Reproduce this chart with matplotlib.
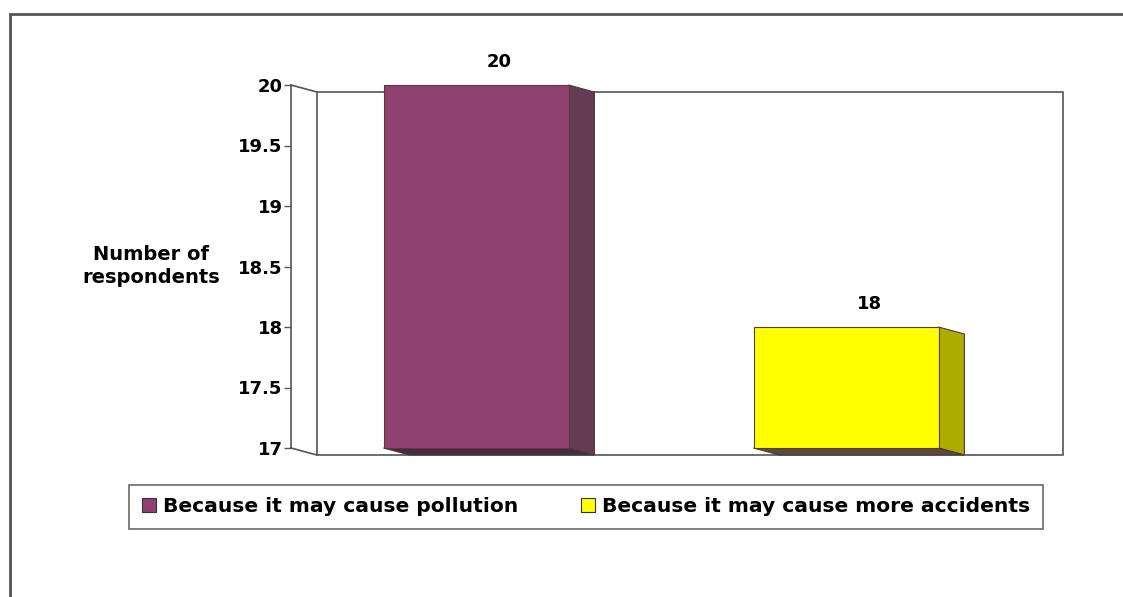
import matplotlib.pyplot as plt
from matplotlib.patches import Polygon, Rectangle
from matplotlib.lines import Line2D

plt.rcParams['font.family'] = ['DejaVu Sans']

# Survey answers
reasons = ['Because it may cause pollution', 'Because it may cause more accidents']
respondents = [20, 18]
yticks = [17, 17.5, 18, 18.5, 19, 19.5, 20]

front_colors = ['#8F4270', '#FFFF00']
side_colors = ['#653A55', '#ADAD00']
floor_colors = ['#4A2A40', '#5A4A40']

base = 17
ymax = 20
dx, dy = 0.07, -0.058  # 3D depth offset in data units
bar_w = 0.5

fig = plt.figure(figsize=(11.23, 5.97), dpi=100)
ax = fig.add_axes([291 / 1123, (597 - 448) / 597, 740 / 1123, 363 / 597])
ax.set_xlim(-0.5, 1.5)
ax.set_ylim(base, ymax)
for s in ax.spines.values():
    s.set_visible(False)
ax.set_xticks([])
ax.set_yticks(yticks)
ax.set_yticklabels([f'{t:g}' for t in yticks], fontsize=13, fontweight='bold')
ax.tick_params(axis='y', length=5, width=1, color='#555555', pad=1)
ax.patch.set_alpha(0)

xl, xr = -0.5, 1.516
line_kw = dict(color='#555555', lw=1.2, clip_on=False, zorder=1)
# front axis line and the slanted edges into the back wall
ax.plot([xl, xl], [base, ymax], **line_kw)
ax.plot([xl, xl + dx], [ymax, ymax + dy], **line_kw)
ax.plot([xl, xl + dx], [base, base + dy], **line_kw)
# back wall
ax.add_patch(Rectangle((xl + dx, base + dy), xr - xl, ymax - base,
                       fill=False, ec='#555555', lw=1.2, clip_on=False, zorder=1))

xs = list(range(len(respondents)))
bars = ax.bar(xs, [v - base for v in respondents], bottom=base, width=bar_w,
              color=front_colors, edgecolor='#5a3a3a', linewidth=0.8,
              zorder=4, clip_on=False)

for rect, fc, sc in zip(bars, floor_colors, side_colors):
    x0 = rect.get_x()
    x1 = x0 + rect.get_width()
    b = rect.get_y()
    t = b + rect.get_height()
    side = Polygon([(x1, b), (x1, t), (x1 + dx, t + dy), (x1 + dx, b + dy)],
                   closed=True, fc=sc, ec='#4a3a3a', lw=0.8, zorder=3, clip_on=False)
    floor = Polygon([(x0, b), (x1, b), (x1 + dx, b + dy), (x0 + dx, b + dy)],
                    closed=True, fc=fc, ec='#4a3a3a', lw=0.8, zorder=3, clip_on=False)
    ax.add_patch(side)
    ax.add_patch(floor)

for x, v in zip(xs, respondents):
    ax.annotate(f'{v}', (x, v), xytext=(17, 10), textcoords='offset points',
                ha='center', va='bottom', fontsize=13, fontweight='bold')

fig.text(151 / 1123, 1 - 266 / 597, 'Number of\nrespondents', ha='center', va='center',
         fontsize=14, fontweight='bold', linespacing=1.3)

handles = [Line2D([], [], ls='none', marker='s', markersize=10, markerfacecolor=c,
                  markeredgecolor='#333333', markeredgewidth=0.8) for c in front_colors]
leg = fig.legend(handles, reasons, loc='center', ncol=2,
                 bbox_to_anchor=(586 / 1123, 1 - 507 / 597),
                 prop={'weight': 'bold', 'size': 14.6}, frameon=True, fancybox=False,
                 edgecolor='#444444', handlelength=0.7, handletextpad=0.35,
                 columnspacing=3.1, borderpad=0.6, borderaxespad=0)
leg.get_frame().set_linewidth(1.2)

# outer chart frame running off the right and bottom edges
fig.patches.append(Rectangle((10 / 1123, -0.05), 1.2, 1 - 14 / 597 + 0.05,
                             transform=fig.transFigure, fill=False,
                             ec='#555555', lw=2, zorder=0))

fig.savefig('out.png', dpi=100)
